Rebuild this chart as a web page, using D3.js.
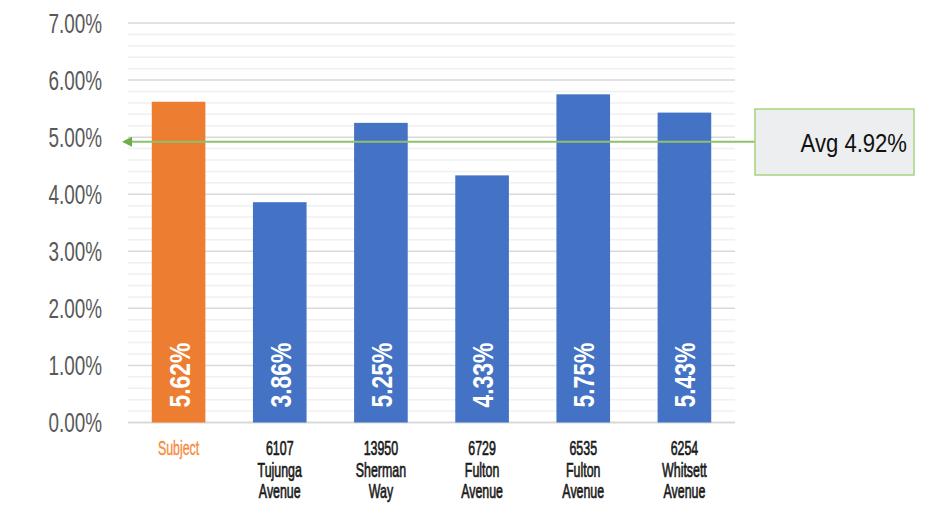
<!DOCTYPE html>
<html>
<head>
<meta charset="utf-8">
<script src="https://cdn.jsdelivr.net/npm/d3@7"></script>
<style>
  body { margin: 0; background: #fff; }
  text { font-family: "Liberation Sans", Arial, sans-serif; }
</style>
</head>
<body>
<script>
// Chart size matches the window.
var svg_width = 930;
var svg_height = 515;

// Data.
var categories = ["Subject", "6107 Tujunga Avenue", "13950 Sherman Way",
                  "6729 Fulton Avenue", "6535 Fulton Avenue", "6254 Whitsett Avenue"];
var category_lines = [["Subject"], ["6107", "Tujunga", "Avenue"], ["13950", "Sherman", "Way"],
                      ["6729", "Fulton", "Avenue"], ["6535", "Fulton", "Avenue"], ["6254", "Whitsett", "Avenue"]];
var rates = [5.62, 3.86, 5.25, 4.33, 5.75, 5.43];
var average = 4.92;
var y_ticks = [0, 1, 2, 3, 4, 5, 6, 7];

var plot = { left: 128, right: 735, top: 23, bottom: 422.5 };

var svg = d3.select("body")
    .append("svg")
    .attr("width", svg_width)
    .attr("height", svg_height);

var x = d3.scaleBand()
    .domain(categories)
    .range([plot.left, plot.right])
    .paddingInner(0.47)
    .paddingOuter(0.235);

var y = d3.scaleLinear()
    .domain([0, 7])
    .range([plot.bottom, plot.top]);

// Minor gridlines every 0.2%, then the major ones on top.
var minor = d3.range(0, 7.01, 0.2).filter(function (v) {
    return Math.abs(v - Math.round(v)) > 0.01;
});
svg.append("g")
    .selectAll("line")
    .data(minor)
    .enter()
    .append("line")
    .attr("x1", plot.left)
    .attr("x2", plot.right)
    .attr("y1", function (d) { return y(d); })
    .attr("y2", function (d) { return y(d); })
    .attr("stroke", "#f0f0f0")
    .attr("stroke-width", 1.5);

svg.append("g")
    .selectAll("line")
    .data(y_ticks)
    .enter()
    .append("line")
    .attr("x1", plot.left)
    .attr("x2", plot.right)
    .attr("y1", function (d) { return y(d); })
    .attr("y2", function (d) { return y(d); })
    .attr("stroke", "#d9d9d9")
    .attr("stroke-width", function (d) { return d === 0 ? 2 : 1.5; });

// Y tick labels, narrowed to match the picture's condensed face.
svg.append("g")
    .selectAll("text")
    .data(y_ticks)
    .enter()
    .append("text")
    .attr("transform", function (d) { return "translate(102," + (y(d) + 9.5) + ") scale(0.7,1)"; })
    .attr("text-anchor", "end")
    .attr("font-size", "27px")
    .attr("fill", "#595959")
    .text(function (d) { return d.toFixed(2) + "%"; });

// Bars
svg.append("g")
    .selectAll("rect")
    .data(rates)
    .enter()
    .append("rect")
    .attr("x", function (d, i) { return x(categories[i]); })
    .attr("y", function (d) { return y(d); })
    .attr("width", x.bandwidth())
    .attr("height", function (d) { return y(0) - y(d); })
    .attr("fill", function (d, i) { return i === 0 ? "#ED7D31" : "#4472C4"; });

// Rotated value labels inside the bars.
svg.append("g")
    .selectAll("text")
    .data(rates)
    .enter()
    .append("text")
    .attr("transform", function (d, i) {
        var cx = x(categories[i]) + x.bandwidth() / 2 + 11;
        return "translate(" + cx + "," + (y(0) - 15) + ") rotate(-90) scale(0.79,1)";
    })
    .attr("font-size", "29px")
    .attr("font-weight", "bold")
    .attr("fill", "#ffffff")
    .text(function (d) { return d.toFixed(2) + "%"; });

// Category labels below the axis.
var cat = svg.append("g")
    .selectAll("g")
    .data(category_lines)
    .enter()
    .append("g");
cat.selectAll("text")
    .data(function (lines, i) {
        return lines.map(function (t, j) { return { t: t, i: i, j: j }; });
    })
    .enter()
    .append("text")
    .attr("transform", function (d) {
        var cx = x(categories[d.i]) + x.bandwidth() / 2;
        return "translate(" + cx + "," + (455 + d.j * 21.5) + ") scale(0.62,1)";
    })
    .attr("text-anchor", "middle")
    .attr("font-size", "20px")
    .attr("fill", function (d) { return d.i === 0 ? "#F68B3C" : "#1a1a1a"; })
    .attr("stroke", function (d) { return d.i === 0 ? "#F68B3C" : "#1a1a1a"; })
    .attr("stroke-width", function (d) { return d.i === 0 ? 0.4 : 0.7; })
    .text(function (d) { return d.t; });

// Average line with its arrow and callout box.
svg.append("defs")
    .append("marker")
    .attr("id", "arrow")
    .attr("viewBox", "0 0 10 10")
    .attr("refX", 1)
    .attr("refY", 5)
    .attr("markerWidth", 5)
    .attr("markerHeight", 5)
    .attr("orient", "auto-start-reverse")
    .append("path")
    .attr("d", "M0,0 L10,5 L0,10 Z")
    .attr("fill", "#70AD47");

var box = { x: 755, y: 109, w: 159, h: 66 };

svg.append("line")
    .attr("x1", plot.left + 3)
    .attr("x2", box.x)
    .attr("y1", y(average))
    .attr("y2", y(average))
    .attr("stroke", "#8DC26B")
    .attr("stroke-width", 2)
    .attr("marker-start", "url(#arrow)");

svg.append("rect")
    .attr("x", box.x)
    .attr("y", box.y)
    .attr("width", box.w)
    .attr("height", box.h)
    .attr("fill", "#EDEEF0")
    .attr("stroke", "#A5D47A")
    .attr("stroke-width", 1.5);

svg.append("text")
    .attr("transform", "translate(907,152) scale(0.85,1)")
    .attr("text-anchor", "end")
    .attr("font-size", "26px")
    .attr("fill", "#111111")
    .text("Avg " + average.toFixed(2) + "%");
</script>
</body>
</html>
